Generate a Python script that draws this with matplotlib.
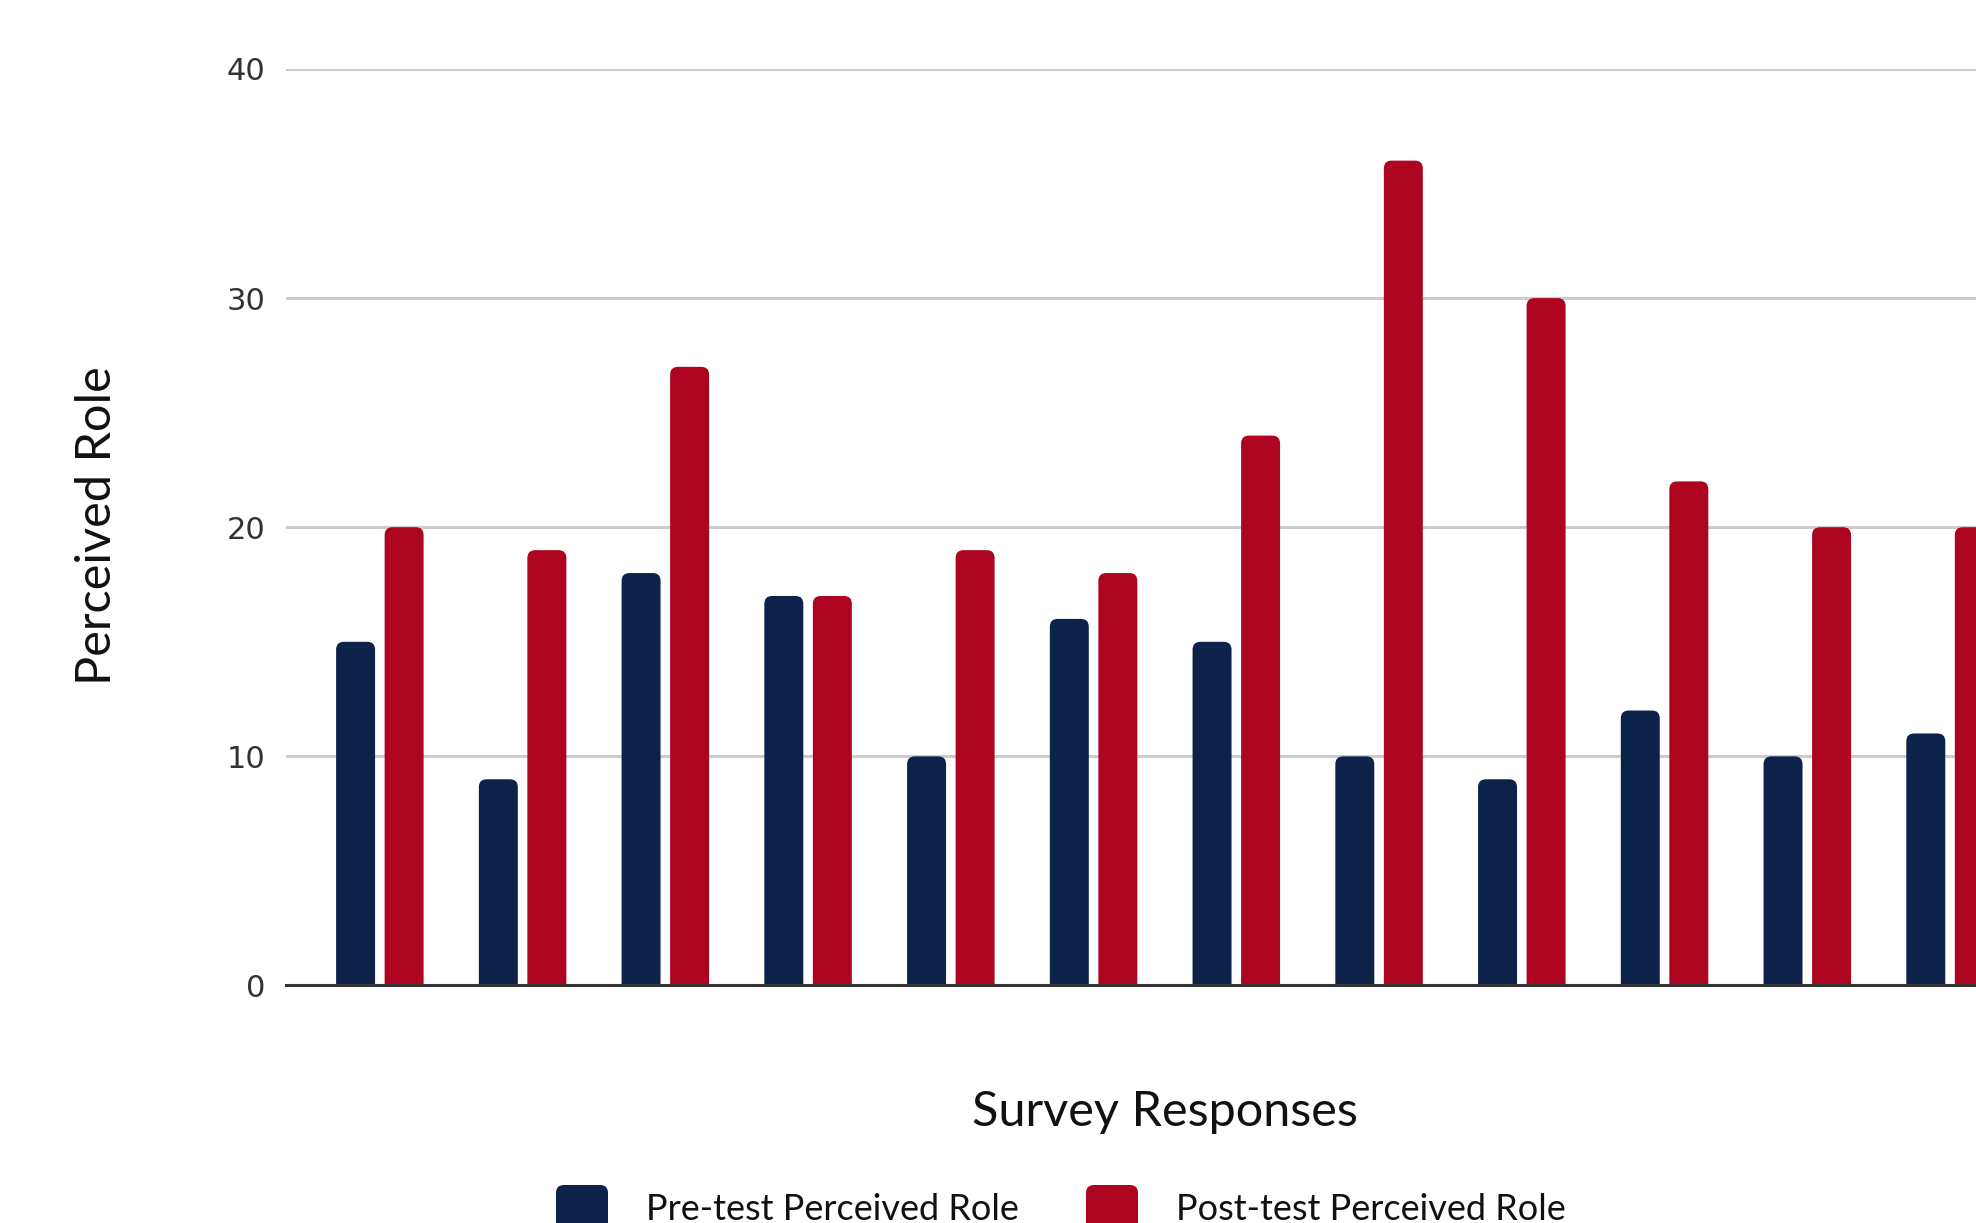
import numpy as np
import matplotlib.pyplot as plt
from matplotlib.patches import FancyBboxPatch

pre_test = [15, 9, 18, 17, 10, 16, 15, 10, 9, 12, 10, 11]
post_test = [20, 19, 27, 17, 19, 18, 24, 36, 30, 22, 20, 20]
y_ticks = [0, 10, 20, 30, 40]

navy = '#0d2249'
crimson = '#ad0420'

fig = plt.figure(figsize=(19.76, 12.23), dpi=100)
# axes run past the right edge of the canvas on purpose
ax = fig.add_axes([0.1447, 0.1942, 0.8897, 0.7494])

x = np.arange(len(pre_test))
w = 0.273
off = 0.17
b1 = ax.bar(x - off, pre_test, w, color=navy, zorder=3)
b2 = ax.bar(x + off, post_test, w, color=crimson, zorder=3)

# swap the plain rectangles for ones with rounded tops
aspect = 6.23
r = 0.055
for bars, c in ((b1, navy), (b2, crimson)):
    for p in bars:
        p.set_visible(False)
        fb = FancyBboxPatch((p.get_x(), 0 - 1), p.get_width(), p.get_height() + 1,
                            boxstyle=f"round,pad=0,rounding_size={r}",
                            mutation_aspect=aspect, fc=c, ec='none', zorder=3)
        ax.add_patch(fb)

ax.set_xlim(-0.658, len(pre_test) - 1 + 0.658)
ax.set_ylim(0, 40)
ax.set_yticks(y_ticks)
ax.set_yticklabels([str(t) for t in y_ticks], fontsize=22, color='#333333')
ax.tick_params(axis='y', length=0, pad=15)
ax.set_xticks([])
ax.yaxis.grid(True, color='#cccccc', lw=2.2, zorder=0)
for s in ['top', 'right', 'left']:
    ax.spines[s].set_visible(False)
ax.spines['bottom'].set_color('#333333')
ax.spines['bottom'].set_linewidth(2.2)
ax.spines['bottom'].set_zorder(4)

fig.text(97 / 1976, 1 - 526 / 1223, 'Perceived Role', rotation=90, ha='center', va='center',
         fontsize=35, family=['Lato', 'DejaVu Sans'], color='#111111')
fig.text(1165 / 1976, 1 - 1112 / 1223, 'Survey Responses', ha='center', va='center',
         fontsize=35, family=['Lato', 'DejaVu Sans'], color='#111111')

# legend, drawn by hand so it can sit partly below the canvas
for x0, c, lab in ((556, navy, 'Pre-test Perceived Role'), (1086, crimson, 'Post-test Perceived Role')):
    sq = FancyBboxPatch((x0 / 1976, 1 - 1240 / 1223), 52 / 1976, 55 / 1223,
                        boxstyle="round,pad=0,rounding_size=0.004", transform=fig.transFigure,
                        fc=c, ec='none', mutation_aspect=1976 / 1223)
    fig.patches.append(sq)
    fig.text((x0 + 90) / 1976, 1 - 1209 / 1223, lab, ha='left', va='center', fontsize=26,
             family=['Lato', 'DejaVu Sans'], color='#111111')

fig.savefig('out.png', dpi=100)
